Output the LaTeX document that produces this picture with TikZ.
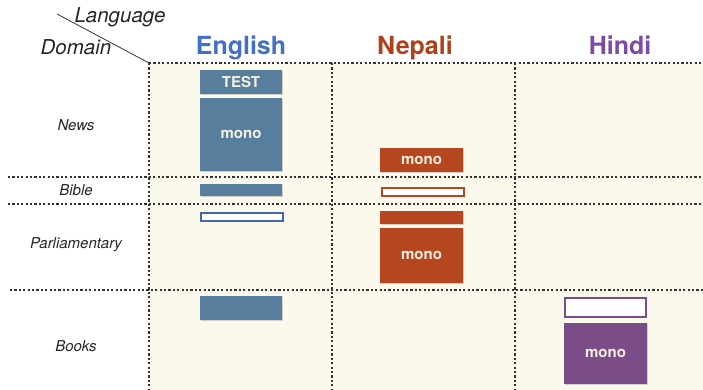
\documentclass[tikz,border=0pt]{standalone}
\usepackage{fontspec}
\setmainfont{TeX Gyre Heros}
\usetikzlibrary{shadows}
\definecolor{cream}{HTML}{FBF8EC}
\definecolor{engbox}{HTML}{577E9C}
\definecolor{nepbox}{HTML}{B5461F}
\definecolor{hinbox}{HTML}{7A4D89}
\definecolor{enghead}{HTML}{4270C6}
\definecolor{nephead}{HTML}{B0401C}
\definecolor{hinhead}{HTML}{7E4AA8}
\definecolor{gridc}{HTML}{333333}
\definecolor{boxtext}{HTML}{F6F0E0}
\begin{document}
\begin{tikzpicture}[x=1pt,y=-1pt,
  gridline/.style={gridc, line width=1.4pt, dash pattern=on 2.2pt off 2.2pt},
  cbox/.style={minimum width=#1, inner sep=0pt, outer sep=0pt, font=\fontsize{15}{15}\selectfont\bfseries, text=boxtext,
     drop shadow={shadow xshift=0.8pt, shadow yshift=-0.8pt, opacity=0.35}},
  engfill/.style={cbox=82pt, fill=engbox},
  nepfill/.style={cbox=83pt, fill=nepbox},
  hinfill/.style={cbox=83pt, fill=hinbox},
  outl/.style={inner sep=0pt, outer sep=0pt, fill=white, line width=2pt,
     drop shadow={shadow xshift=0.8pt, shadow yshift=-0.8pt, opacity=0.3}},
  head/.style={font=\fontsize{25}{25}\selectfont\bfseries},
  rowlab/.style={font=\fontsize{15}{15}\selectfont\itshape, text=black!85},
  corner/.style={font=\fontsize{20.5}{20}\selectfont\itshape, text=black!85}
]
\useasboundingbox (0,0) rectangle (703,390);
\fill[cream] (149,63) rectangle (703,390);
% grid
\coordinate (tl) at (149,63);
\coordinate (tr) at (703,63);
\draw[gridline] (tl) -- (tr);
\draw[gridline] (149,63) -- (149,390);
\draw[gridline] (332,63) -- (332,390);
\draw[gridline] (515,63) -- (515,390);
\draw[gridline] (8,177) -- (703,177);
\draw[gridline] (8,204) -- (703,204);
\draw[gridline] (10,290) -- (703,290);
% corner
\coordinate (dstart) at (57,14);
\draw[black!80, line width=0.8pt] (dstart) -- (tl);
\node[corner, anchor=base] (lang) at (120,23) {Language};
\node[corner, anchor=base] (dom) at (76,55) {Domain};
% headers
\node[head, text=enghead, anchor=base] (heng) at (241,55) {English};
\node[head, text=nephead, anchor=base] (hnep) at (415,55) {Nepali};
\node[head, text=hinhead, anchor=base] (hhin) at (620,55) {Hindi};
% row labels
\node[rowlab] (rnews) at (76,125) {News};
\node[rowlab] (rbible) at (76,190) {Bible};
\node[rowlab] (rparl) at (76,245) {Parliamentary};
\node[rowlab] (rbooks) at (76,346) {Books};
% English
\node[engfill, minimum height=24pt] (etest) at (241,82) {TEST};
\node[engfill, minimum height=73pt] (emono) at (241,134.5) {mono};
\node[engfill, minimum height=12pt] (ebible) at (241,190) {};
\node[outl, draw=engbox!80!blue, minimum width=82pt, minimum height=8pt] (eparl) at (242,216.5) {};
\node[engfill, minimum height=24pt] (ebooks) at (241,308) {};
% Nepali
\node[nepfill, minimum height=24pt] (nnews) at (421.5,160) {mono};
\node[outl, draw=nepbox, minimum width=82pt, minimum height=8pt] (nbible) at (423,192) {};
\node[nepfill, minimum height=13pt] (nparlbar) at (421.5,217.5) {};
\node[nepfill, minimum height=55pt] (nparl) at (421.5,255.5) {mono};
% Hindi
\node[outl, draw=hinbox, minimum width=81pt, minimum height=19pt] (hbooksout) at (605.5,307.5) {};
\node[hinfill, minimum height=61pt] (hbooks) at (605.5,353.5) {mono};
\end{tikzpicture}
\end{document}
